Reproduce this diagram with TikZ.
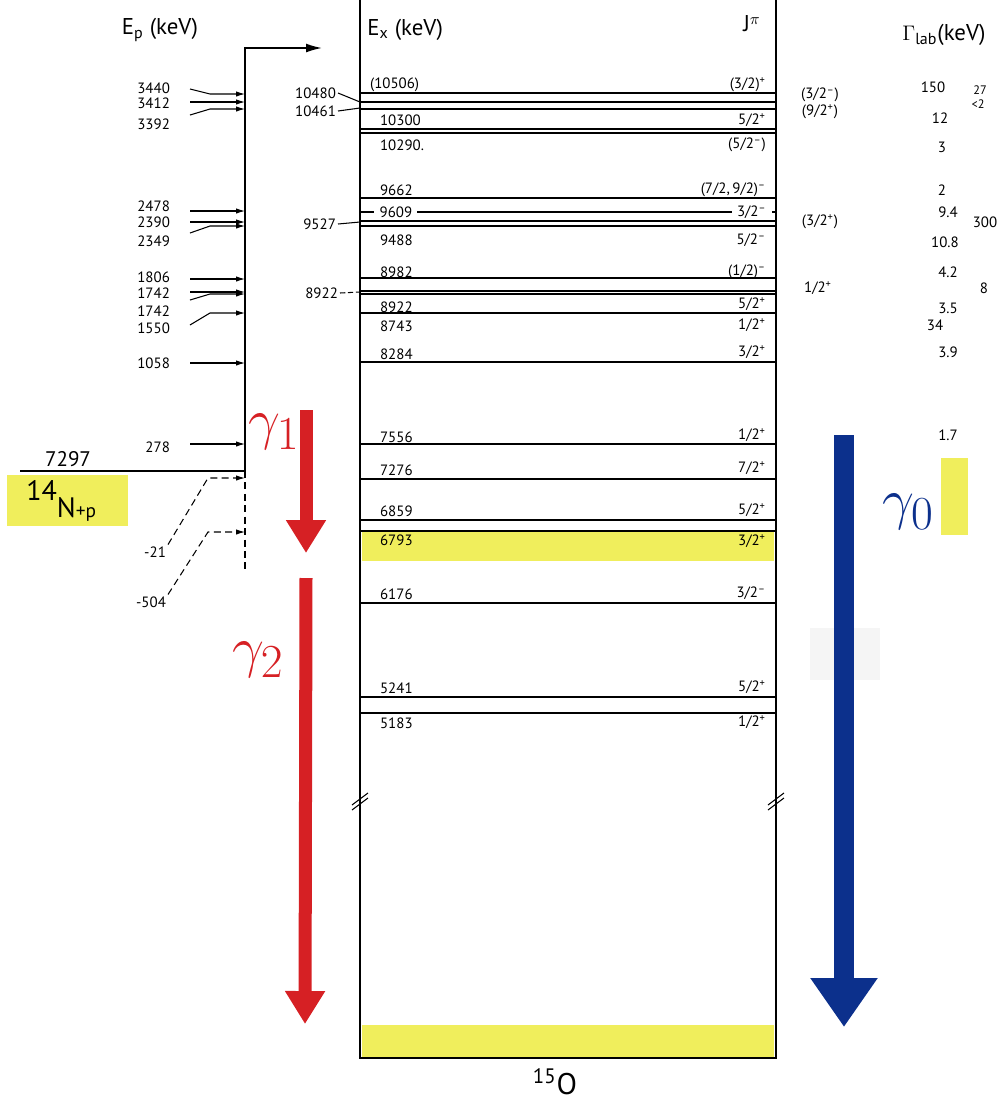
\documentclass[tikz,border=0pt]{standalone}
\usepackage{fontspec}
\setmainfont{PT Sans}
\usepackage{tikz}
\usetikzlibrary{arrows.meta,positioning}
\definecolor{marker}{RGB}{240,238,92}
\definecolor{penred}{RGB}{214,32,36}
\definecolor{penblue}{RGB}{12,48,140}
\newcommand{\jplus}{\textsuperscript{+}}
\newcommand{\jminus}{\textsuperscript{--}}
\newcommand{\pengamma}[1]{\scalebox{1.3}{$\gamma_{#1}$}}
\tikzset{
  level/.style={line width=0.6pt},
  frame/.style={line width=0.9pt},
  feed/.style={-{Latex[length=5pt,width=3pt]}, line width=0.6pt},
  num/.style={font=\fontsize{8.5}{9}\selectfont, inner sep=1pt},
  small/.style={font=\fontsize{7}{7}\selectfont, inner sep=1pt},
  exlab/.style={num, anchor=west},
  jlab/.style={num, anchor=east},
  eplab/.style={num, anchor=east},
  head/.style={font=\fontsize{13}{14}\selectfont, inner sep=0pt},
  pen/.style={font=\fontsize{24.88}{27}\selectfont, inner sep=0pt},
  redarrow/.style={penred, line width=7.4pt, -{Triangle[length=0.66cm,width=0.76cm]}},
  bluearrow/.style={penblue, line width=11.3pt, -{Triangle[length=0.98cm,width=1.28cm]}}
}

\begin{document}
\begin{tikzpicture}[x=0.02cm, y=-0.02cm]
  \useasboundingbox (0,0) rectangle (1004,1110);
  % highlights
  \fill[marker] (7,475) rectangle (128,526);
  \fill[marker] (362,531) rectangle (774,561);
  \fill[marker] (362,1025) rectangle (774,1058);
  \fill[marker] (941,458) rectangle (968,535);
  \fill[black!4] (810,628) rectangle (880,680);
  % 15O scheme
  \coordinate (tl) at (360,0);
  \coordinate (bl) at (360,1058);
  \coordinate (tr) at (776,0);
  \coordinate (br) at (776,1058);
  \draw[frame] (tl) -- (bl) -- (br) -- (tr);
  \foreach \bx in {360,776}
    \draw[level] (\bx-8,805) -- (\bx+8,793) (\bx-8,810) -- (\bx+8,798);
  \foreach \y in {93,102,109,129,133,198,212,221,226,278,291,294,313,362,444,479,520,531,603,697,713}
    \draw[level] (360,\y) -- (776,\y);
  \node[head, anchor=west] (exh) at (367,30) {E\textsubscript{x} (keV)};
  \node[head] (jph) at (752,24) {J$^{\pi}$};
  \node[head] (gah) at (944,35) {$\Gamma$\textsubscript{lab}(keV)};
  \node[font=\fontsize{17}{18}\selectfont] (oxy) at (555,1082) {\textsuperscript{15}O};
  \node[exlab] (ex85) at (368,85) {(10506)};
  \foreach \y/\lab in {120/10300,145/10290.,190/9662,240/9488,272/8982,307/8922,326/8743,354/8284,437/7556,470/7276,511/6859,540/6793,594/6176,688/5241,723/5183}
    \node[exlab] (ex\y) at (378,\y) {\lab};
  \node[exlab, fill=white, inner xsep=3pt] (ex212) at (374,212) {9609};
  \foreach \y/\lab in {85/{(3/2)\jplus},120/{5/2\jplus},145/{(5/2\jminus)},190/{(7/2,\,9/2)\jminus},240/{5/2\jminus},272/{(1/2)\jminus},304/{5/2\jplus},325/{1/2\jplus},352/{3/2\jplus},435/{1/2\jplus},468/{7/2\jplus},510/{5/2\jplus},541/{3/2\jplus},593/{3/2\jminus},687/{5/2\jplus},722/{1/2\jplus}}
    \node[jlab] (jp\y) at (768,\y) {\lab};
  \node[jlab, fill=white, inner xsep=3pt] (jp212) at (772,212) {3/2\jminus};
  % levels outside the scheme
  \node[eplab] (x10480) at (338,93) {10480};
  \node[eplab] (x10461) at (338,111) {10461};
  \node[eplab] (x9527) at (338,224) {9527};
  \node[eplab] (x8922) at (340,293) {8922};
  \draw[level] (x10480.east) -- (tl |- 0,102);
  \draw[level] (x10461.east) -- (tl |- 0,108);
  \draw[level] (x9527.east) -- (tl |- 0,222);
  \draw[level, dash pattern=on 3pt off 1.5pt] (x8922.east) -- (tl |- 0,292);
  \node[num] (jx96) at (820,95) {(3/2\jminus)};
  \node[num] (jx112) at (820,112) {(9/2\jplus)};
  \node[num] (jx222) at (820,222) {(3/2\jplus)};
  \node[num] (jx288) at (818,288) {1/2\jplus};
  % widths
  \foreach \x/\y/\t in {933/87/150,940/118/12,942/147/3,942/190/2,948/212/9.4,945/242/10.8,948/272/4.2,948/308/3.5,935/325/34,948/352/3.9,948/435/1.7}
    \node[num] (gam\y) at (\x,\y) {\t};
  \node[small] (gamb90) at (980,90) {27};
  \node[small] (gamb104) at (978,104) {<2};
  \node[num] (gamb222) at (985,222) {300};
  \node[num] (gamb288) at (984,288) {8};
  % resonances fed from 14N+p
  \node[head] (eph) at (160,30) {E\textsubscript{p} (keV)};
  \coordinate (feedbot) at (245,471);
  \coordinate (feedtop) at (245,48);
  \coordinate (feedout) at (322,48);
  \coordinate (thr) at (20,471);
  \draw[frame, -{Latex[length=9pt,width=5pt]}] (feedbot) -- (feedtop) -- (feedout);
  \draw[frame] (thr) -- (feedbot);
  \draw[level, dash pattern=on 4pt off 2.5pt] (feedbot) -- (245,570);
  \node[font=\fontsize{12}{13}\selectfont] (thrlab) at (68,459) {7297};
  \node[anchor=base west, font=\fontsize{16}{16}\selectfont, inner sep=0pt] (np) at (26,517)
    {\raisebox{0.34cm}{14}N{\fontsize{11}{11}\selectfont+p}};
  \foreach \t/\ly/\dy/\ay in {3440/88/1/94,3412/103/-1/102,3392/124/-9/109,2478/206/5/211,2390/222/0/222,2349/241/-8/226,1806/277/2/279,1742/293/-1/292,1742/311/-11/294,1550/328/-3/313,1058/363/0/363,278/447/-3/444}{
    \node[eplab] (ep\ly) at (172,\ly) {\t};
    \coordinate (fd\ly) at (245,\ay);
    \draw[feed] (ep\ly.east) ++(18,\dy) -- ([xshift=-0.7cm]fd\ly) -- (fd\ly);
  }
  \node[eplab] (epm21) at (168,552) {-21};
  \node[eplab] (epm504) at (168,602) {-504};
  \coordinate (fdm21) at (245,478);
  \coordinate (fdm504) at (245,532);
  \draw[feed, dash pattern=on 4pt off 2.5pt] (epm21.north east) -- ([xshift=-0.74cm]fdm21) -- (fdm21);
  \draw[feed, dash pattern=on 4pt off 2.5pt] (epm504.north east) -- ([xshift=-0.74cm]fdm504) -- (fdm504);
  % gamma transitions
  \coordinate (g1top) at (306,410);
  \coordinate (g1tip) at (306,553);
  \coordinate (g2top) at (306,578);
  \coordinate (g2tip) at (305,1024);
  \coordinate (g0top) at (844,435);
  \coordinate (g0tip) at (844,1027);
  \draw[redarrow] (g1top) -- (g1tip);
  \draw[redarrow] (g2top) -- (g2tip);
  \draw[bluearrow] (g0top) -- (g0tip);
  \node[pen, penred] (g1lab) at (274,432) {\pengamma{1}};
  \node[pen, penred] (g2lab) at (258,660) {\pengamma{2}};
  \node[pen, penblue] (g0lab) at (908,512) {\pengamma{0}};
\end{tikzpicture}
\end{document}
